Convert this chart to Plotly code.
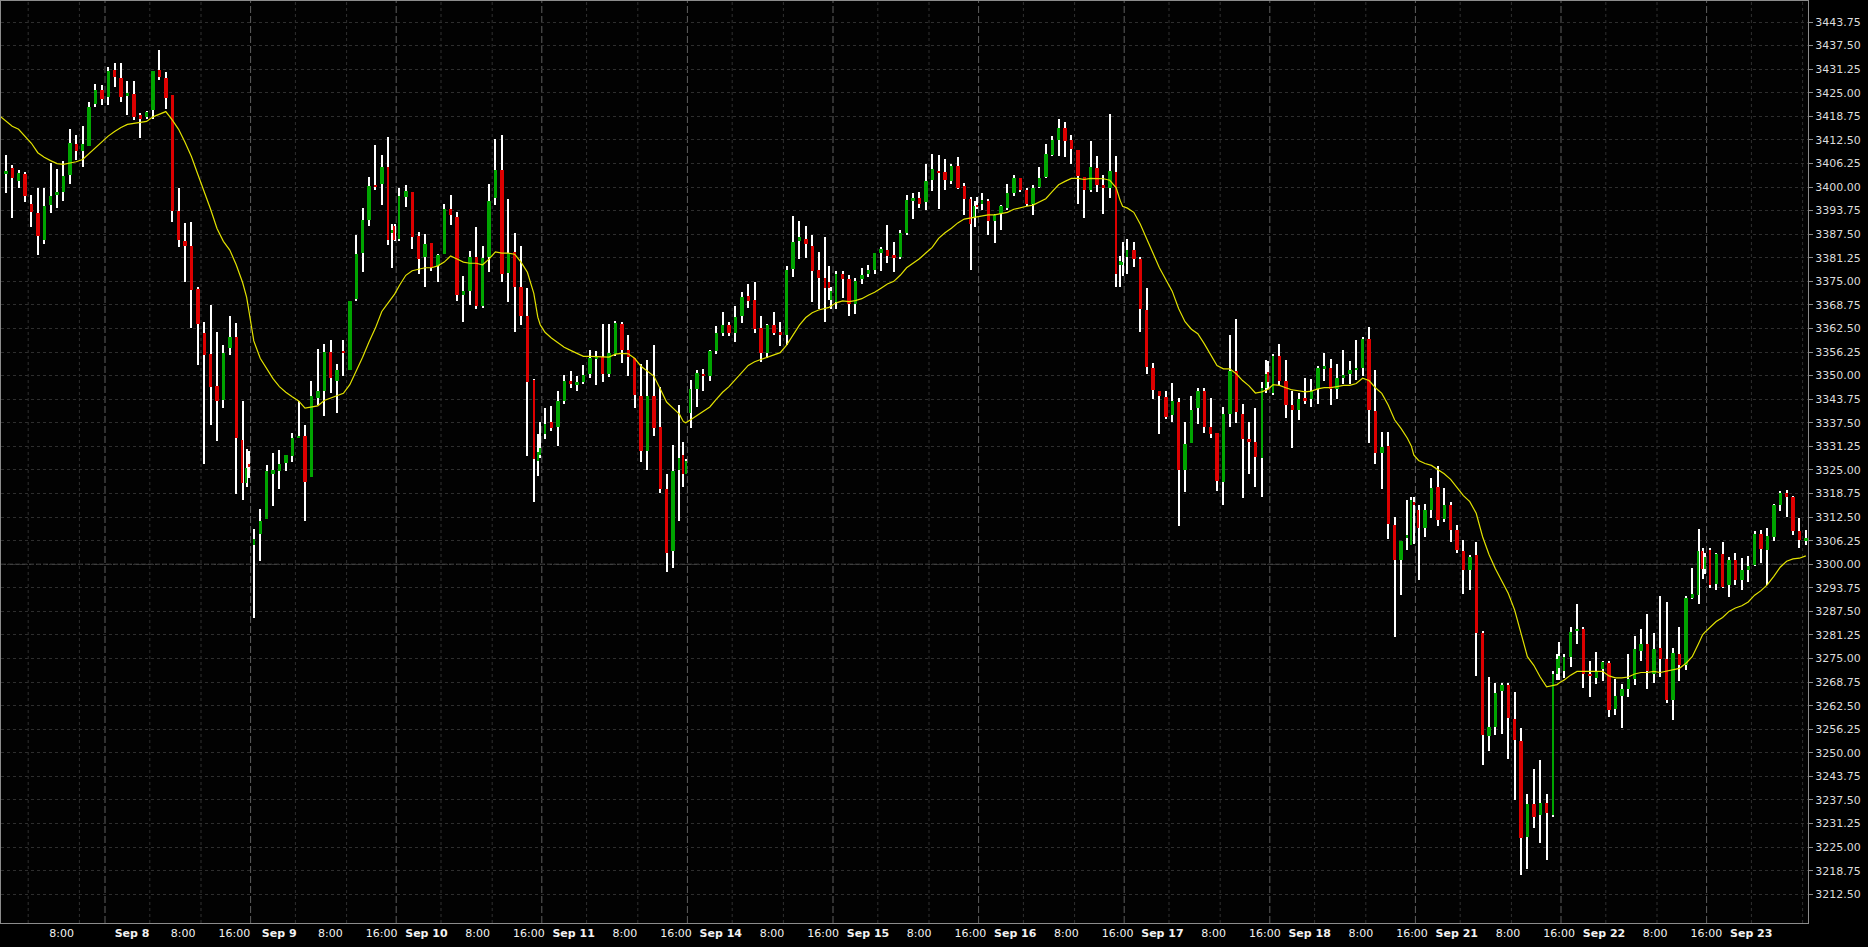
import plotly.graph_objects as go

# ---------------- data ----------------
sessions = ["Sep 7", "Sep 8", "Sep 9", "Sep 10", "Sep 11", "Sep 14", "Sep 15",
            "Sep 16", "Sep 17", "Sep 18", "Sep 21", "Sep 22", "Sep 23"]
first_bar_hour = [3, 1, 1, 1, 1, 1, 1, 1, 1, 1, 1, 1, 1]
last_bar_hour = [19, 22, 22, 22, 22, 22, 22, 22, 22, 22, 22, 22, 16]
has_short_bars = [False] + [True] * 11 + [False]
session_hours = [19] + [22.75] * 12

opens = [
    3395.2, 3403.4, 3405.1, 3401.7, 3403.4, 3395.5, 3393.2, 3385.9, 3395.2, 3397.8, 3398.6, 3403.1, 3411.3, 3409.6, 3410.8, 3422.0, 3425.7,
    3424.0, 3431.1, 3429.0, 3424.3, 3424.6, 3419.1, 3418.6, 3420.5, 3431.1, 3429.0, 3424.5, 3393.6, 3385.7, 3384.3, 3373.0, 3361.4, 3355.7, 3347.3, 3343.6, 3357.2, 3360.3, 3332.9, 3321.6, 3326.7,
    3305.0, 3308.1, 3312.0, 3324.0, 3324.8, 3326.8, 3328.7, 3333.5, 3334.0, 3323.1, 3344.0, 3346.0, 3356.4, 3348.5, 3356.6, 3351.6, 3370.4, 3382.5, 3391.3, 3400.6, 3400.8, 3405.3, 3387.9, 3389.8,
    3386.3, 3397.4, 3398.8, 3387.0, 3381.4, 3385.1, 3379.2, 3382.2, 3394.1, 3392.1, 3371.3, 3372.4, 3381.5, 3368.4, 3381.5, 3397.0, 3404.5, 3377.2, 3382.8, 3373.5, 3365.7, 3348.8, 3327.5, 3329.0,
    3334.4, 3337.7, 3336.3, 3343.4, 3348.7, 3347.6, 3348.4, 3350.4, 3354.6, 3354.9, 3350.4, 3355.7, 3363.7, 3356.8, 3354.6, 3344.5, 3329.9, 3344.5, 3336.4, 3320.0, 3303.4, 3325.1, 3329.0, 3324.0,
    3340.0, 3346.4, 3350.5, 3349.8, 3356.6, 3361.4, 3363.4, 3361.2, 3365.9, 3371.2, 3370.1, 3362.6, 3356.0, 3363.3, 3361.5, 3360.9, 3378.4, 3385.6, 3386.3, 3384.5, 3378.0, 3375.8, 3374.7, 3370.1,
    3369.6, 3377.0, 3375.5, 3369.1, 3375.5, 3377.0, 3378.0, 3382.5, 3383.4, 3381.8, 3381.4, 3387.9, 3396.3, 3397.2, 3396.0, 3401.8, 3404.3, 3403.9, 3401.7, 3405.6, 3400.2, 3396.9, 3391.8, 3395.3,
    3395.6, 3396.3, 3391.0, 3392.9, 3394.4, 3398.4, 3402.5, 3399.2, 3395.5, 3400.0, 3402.6, 3408.5, 3412.5, 3415.6, 3412.4, 3409.9, 3402.6, 3399.2, 3405.1, 3400.5, 3399.8, 3404.0, 3379.4, 3379.4,
    3381.4, 3383.4, 3380.8, 3367.4, 3352.1, 3345.8, 3344.3, 3339.5, 3343.1, 3325.1, 3332.1, 3341.4, 3345.8, 3336.3, 3334.7, 3321.9, 3339.7, 3351.3, 3339.8, 3333.2, 3332.3, 3328.2, 3346.7, 3351.0,
    3345.3, 3355.2, 3348.5, 3342.2, 3340.9, 3344.0, 3343.7, 3346.5, 3352.0, 3352.1, 3346.5, 3349.6, 3350.5, 3351.5, 3352.0, 3359.7, 3340.6, 3329.5, 3331.3, 3310.3, 3301.0, 3307.2, 3305.0, 3316.6,
    3314.3, 3309.6, 3314.3, 3320.5, 3312.0, 3315.8, 3309.0, 3303.4, 3298.6, 3302.5, 3281.7, 3254.4, 3256.8, 3266.4, 3268.1, 3259.1, 3253.1, 3227.8, 3236.5, 3233.4, 3236.8, 3233.4, 3270.9, 3272.4,
    3271.6, 3275.5, 3282.5, 3282.8, 3270.9, 3269.8, 3272.1, 3273.8, 3261.6, 3265.1, 3267.0, 3269.6, 3277.1, 3278.9, 3270.9, 3277.8, 3274.8, 3263.9, 3276.3, 3273.2, 3291.0, 3291.8, 3303.4, 3298.8,
    3303.7, 3294.7, 3302.6, 3294.4, 3301.0, 3295.7, 3298.6, 3299.9, 3308.1, 3303.9, 3307.3, 3315.6, 3318.9, 3317.7, 3308.9, 3306.5,
]
highs = [
    3404.2, 3408.4, 3405.9, 3404.5, 3404.0, 3398.0, 3399.8, 3399.8, 3406.3, 3404.8, 3407.0, 3415.3, 3413.8, 3416.1, 3422.6, 3427.3, 3427.1,
    3431.8, 3432.8, 3432.8, 3428.2, 3428.2, 3419.7, 3420.1, 3430.8, 3436.4, 3430.5, 3424.5, 3399.8, 3390.5, 3390.7, 3373.5, 3364.2, 3368.7, 3361.6, 3358.2, 3365.9, 3363.9, 3343.3, 3330.5, 3329.9,
    3309.3, 3314.7, 3326.4, 3329.5, 3330.2, 3329.0, 3334.7, 3343.4, 3336.8, 3348.7, 3357.1, 3358.3, 3359.5, 3353.0, 3359.5, 3369.9, 3387.3, 3394.4, 3402.6, 3411.2, 3408.5, 3413.3, 3390.2, 3390.2,
    3399.8, 3400.6, 3398.8, 3388.1, 3387.6, 3385.1, 3382.3, 3395.5, 3398.0, 3393.5, 3376.3, 3383.1, 3389.3, 3384.3, 3400.9, 3412.7, 3413.8, 3396.7, 3387.9, 3384.3, 3373.3, 3349.2, 3334.4, 3337.7,
    3341.4, 3342.0, 3345.8, 3350.2, 3351.3, 3349.8, 3352.9, 3356.9, 3356.6, 3363.7, 3363.7, 3364.5, 3364.3, 3360.8, 3354.6, 3353.2, 3354.1, 3358.1, 3347.0, 3323.9, 3331.6, 3342.2, 3332.4, 3327.8,
    3348.8, 3351.5, 3351.8, 3356.9, 3363.1, 3367.0, 3364.3, 3368.5, 3372.1, 3374.3, 3374.9, 3365.9, 3363.6, 3367.0, 3364.3, 3379.2, 3392.2, 3391.0, 3389.8, 3387.3, 3382.9, 3386.8, 3379.1, 3373.6,
    3377.8, 3377.8, 3376.6, 3376.0, 3378.6, 3379.4, 3382.5, 3384.0, 3389.9, 3385.3, 3388.5, 3398.0, 3398.4, 3398.8, 3406.0, 3408.7, 3408.5, 3407.4, 3406.0, 3407.9, 3401.1, 3397.3, 3396.4, 3397.3,
    3398.4, 3396.7, 3392.9, 3395.2, 3400.8, 3403.1, 3402.5, 3399.7, 3400.6, 3405.3, 3411.5, 3413.6, 3418.1, 3417.2, 3413.8, 3409.9, 3402.6, 3412.2, 3408.2, 3403.2, 3419.4, 3408.2, 3381.7, 3385.3,
    3386.2, 3385.4, 3381.5, 3373.3, 3353.3, 3345.8, 3345.9, 3348.1, 3344.2, 3337.7, 3344.5, 3346.8, 3346.8, 3344.2, 3334.7, 3341.6, 3360.8, 3365.1, 3342.5, 3337.7, 3341.4, 3348.4, 3354.1, 3353.8,
    3355.7, 3358.3, 3354.1, 3345.8, 3345.3, 3349.5, 3349.0, 3352.6, 3356.0, 3354.3, 3353.2, 3356.9, 3353.8, 3359.5, 3360.2, 3362.8, 3351.5, 3335.0, 3335.0, 3312.6, 3306.2, 3316.9, 3317.7, 3317.8,
    3315.8, 3316.1, 3322.8, 3326.1, 3320.3, 3316.6, 3310.3, 3306.5, 3302.5, 3305.8, 3282.3, 3270.1, 3268.5, 3268.4, 3268.4, 3266.2, 3256.5, 3239.0, 3245.8, 3248.2, 3239.0, 3271.6, 3276.3, 3279.4,
    3276.3, 3283.3, 3289.5, 3283.3, 3274.4, 3276.8, 3274.4, 3274.4, 3269.6, 3268.2, 3276.3, 3281.0, 3282.8, 3286.7, 3281.7, 3291.5, 3290.0, 3277.8, 3283.3, 3291.5, 3299.1, 3309.3, 3304.2, 3303.0,
    3304.2, 3303.0, 3305.8, 3301.9, 3303.0, 3301.6, 3302.2, 3308.9, 3309.2, 3309.6, 3316.1, 3319.4, 3319.7, 3318.2, 3312.3, 3309.2,
]
lows = [
    3394.8, 3398.3, 3391.8, 3399.8, 3396.0, 3389.3, 3381.9, 3384.8, 3393.0, 3394.4, 3396.3, 3400.8, 3407.1, 3405.3, 3410.8, 3421.2, 3421.7,
    3421.7, 3426.5, 3422.5, 3419.1, 3417.8, 3412.9, 3418.0, 3418.1, 3428.4, 3420.6, 3390.7, 3384.2, 3374.7, 3362.5, 3352.7, 3326.5, 3336.9, 3332.7, 3341.4, 3355.4, 3318.5, 3316.9, 3320.5, 3322.8,
    3285.8, 3300.8, 3312.0, 3315.4, 3320.0, 3324.7, 3327.0, 3333.5, 3311.5, 3323.1, 3342.2, 3339.2, 3345.3, 3340.0, 3349.8, 3351.6, 3369.8, 3377.4, 3389.8, 3399.1, 3395.3, 3384.6, 3378.6, 3385.6,
    3385.6, 3394.6, 3383.7, 3377.0, 3373.5, 3377.8, 3374.7, 3382.2, 3389.9, 3369.8, 3364.2, 3368.8, 3367.8, 3367.9, 3377.4, 3395.3, 3374.7, 3369.5, 3361.7, 3363.4, 3328.7, 3316.4, 3323.3, 3328.2,
    3333.3, 3335.4, 3331.3, 3342.6, 3346.7, 3346.0, 3347.8, 3349.5, 3347.6, 3348.2, 3349.6, 3355.2, 3353.3, 3349.9, 3341.4, 3327.1, 3325.1, 3334.1, 3318.8, 3298.0, 3299.1, 3311.5, 3320.5, 3324.0,
    3336.0, 3341.7, 3346.0, 3348.7, 3355.7, 3360.6, 3360.5, 3358.9, 3363.9, 3367.9, 3361.4, 3353.5, 3354.7, 3360.8, 3357.8, 3358.1, 3376.1, 3381.0, 3381.1, 3369.6, 3367.8, 3364.2, 3370.1, 3367.8,
    3367.6, 3370.5, 3365.9, 3366.4, 3374.3, 3376.1, 3377.0, 3377.8, 3379.8, 3377.4, 3381.0, 3387.3, 3391.5, 3394.4, 3393.8, 3398.9, 3394.1, 3399.1, 3400.8, 3399.4, 3392.6, 3378.1, 3389.5, 3394.1,
    3394.0, 3387.3, 3385.1, 3388.7, 3394.0, 3397.5, 3398.8, 3394.9, 3392.7, 3399.8, 3402.3, 3408.2, 3408.2, 3407.9, 3406.0, 3395.6, 3391.8, 3398.6, 3398.6, 3392.9, 3397.2, 3373.5, 3373.5, 3376.3,
    3376.9, 3378.9, 3361.7, 3350.4, 3343.7, 3334.4, 3338.5, 3337.8, 3310.1, 3319.1, 3332.1, 3337.2, 3334.7, 3333.5, 3319.4, 3315.8, 3336.3, 3337.5, 3317.5, 3324.0, 3320.6, 3317.8, 3345.3, 3346.5,
    3345.0, 3347.6, 3338.8, 3330.7, 3338.3, 3342.5, 3341.6, 3342.5, 3348.7, 3342.2, 3343.7, 3347.8, 3347.8, 3348.8, 3349.9, 3332.1, 3326.5, 3320.0, 3306.8, 3280.6, 3291.8, 3303.9, 3305.0, 3305.4,
    3295.7, 3307.1, 3312.3, 3310.1, 3311.2, 3305.9, 3303.0, 3292.1, 3293.3, 3270.4, 3246.8, 3250.4, 3254.6, 3255.0, 3248.4, 3237.5, 3217.7, 3219.1, 3230.0, 3226.2, 3221.6, 3232.9, 3269.3, 3269.3,
    3269.8, 3272.7, 3278.9, 3267.2, 3264.7, 3268.2, 3269.0, 3259.6, 3260.0, 3256.5, 3264.7, 3268.1, 3274.3, 3267.0, 3268.5, 3270.1, 3263.1, 3258.8, 3269.0, 3272.0, 3290.7, 3289.5, 3296.0, 3297.5,
    3293.8, 3293.3, 3293.8, 3291.3, 3294.4, 3293.3, 3295.2, 3299.6, 3300.3, 3294.4, 3306.2, 3314.0, 3312.4, 3307.8, 3304.2, 3305.0,
]
closes = [
    3403.4, 3404.2, 3402.3, 3403.6, 3397.5, 3393.3, 3387.0, 3395.0, 3397.7, 3398.8, 3403.0, 3411.6, 3409.6, 3411.5, 3421.2, 3425.7, 3423.3,
    3430.7, 3429.1, 3423.9, 3424.8, 3418.6, 3418.0, 3419.8, 3430.8, 3429.1, 3423.7, 3393.6, 3385.9, 3384.3, 3372.6, 3363.6, 3355.4, 3347.1, 3343.4, 3356.0, 3360.3, 3333.6, 3321.6, 3325.4, 3325.7,
    3306.8, 3311.5, 3324.8, 3325.1, 3326.7, 3329.0, 3333.5, 3334.0, 3321.7, 3344.5, 3346.0, 3356.4, 3349.3, 3351.5, 3356.1, 3369.9, 3382.3, 3391.3, 3400.3, 3400.0, 3405.4, 3386.0, 3388.7, 3385.9,
    3397.7, 3398.9, 3386.7, 3381.0, 3384.8, 3378.6, 3382.0, 3394.3, 3392.6, 3371.5, 3372.4, 3381.5, 3368.4, 3381.1, 3396.4, 3404.5, 3376.9, 3382.5, 3373.5, 3365.9, 3348.4, 3327.8, 3329.8, 3330.7,
    3337.2, 3336.1, 3343.4, 3348.7, 3347.8, 3348.4, 3350.2, 3354.7, 3355.0, 3350.4, 3356.1, 3363.9, 3356.8, 3355.0, 3345.0, 3330.1, 3344.5, 3336.1, 3320.0, 3303.1, 3324.7, 3328.2, 3324.0, 3327.5,
    3346.5, 3350.7, 3349.9, 3356.6, 3361.4, 3363.4, 3361.2, 3365.6, 3370.9, 3369.9, 3362.3, 3356.1, 3363.3, 3361.2, 3360.9, 3378.0, 3385.4, 3386.7, 3384.8, 3377.8, 3375.8, 3373.2, 3373.2, 3372.4,
    3376.9, 3375.5, 3369.1, 3375.2, 3376.6, 3378.1, 3382.5, 3383.6, 3381.7, 3381.5, 3387.7, 3396.6, 3397.0, 3395.6, 3401.5, 3404.8, 3403.9, 3401.8, 3405.6, 3399.8, 3396.9, 3390.2, 3394.9, 3394.9,
    3396.6, 3391.0, 3392.6, 3394.9, 3398.4, 3402.5, 3399.1, 3395.6, 3399.8, 3402.5, 3408.7, 3412.5, 3415.6, 3412.2, 3410.1, 3402.8, 3399.1, 3405.4, 3400.5, 3400.0, 3404.2, 3377.0, 3380.5, 3380.0,
    3383.4, 3381.0, 3367.8, 3352.3, 3346.2, 3344.5, 3339.1, 3343.3, 3325.1, 3332.0, 3340.9, 3345.8, 3336.3, 3334.4, 3322.0, 3339.7, 3351.3, 3340.3, 3333.3, 3332.3, 3328.5, 3346.7, 3350.5, 3348.4,
    3355.2, 3348.5, 3342.2, 3340.9, 3343.7, 3343.4, 3346.0, 3352.0, 3352.4, 3346.5, 3349.3, 3350.1, 3351.6, 3352.1, 3359.7, 3340.9, 3329.5, 3331.2, 3310.7, 3301.0, 3306.2, 3307.6, 3316.9, 3315.8,
    3309.6, 3314.3, 3320.2, 3311.8, 3315.8, 3309.2, 3303.7, 3298.6, 3302.0, 3281.7, 3254.6, 3256.9, 3265.8, 3268.1, 3259.3, 3253.4, 3227.5, 3236.5, 3232.9, 3236.8, 3234.1, 3270.9, 3274.8, 3275.8,
    3275.5, 3282.0, 3282.8, 3270.9, 3270.4, 3271.6, 3274.0, 3261.3, 3265.0, 3267.0, 3269.6, 3277.4, 3278.9, 3271.6, 3277.4, 3274.8, 3263.9, 3276.6, 3273.2, 3291.0, 3292.1, 3303.4, 3298.8, 3301.9,
    3294.4, 3302.6, 3294.1, 3301.1, 3295.7, 3298.5, 3299.6, 3308.1, 3304.0, 3307.5, 3315.8, 3318.9, 3317.8, 3308.9, 3306.5, 3306.8,
]
moving_average = [
    3418.9, 3417.4, 3416.1, 3415.3, 3413.5, 3411.6, 3409.1, 3407.9, 3407.0, 3406.2, 3406.0, 3406.3, 3406.7, 3407.3, 3408.8, 3410.4, 3411.9,
    3413.5, 3414.7, 3415.8, 3416.6, 3416.9, 3417.0, 3417.4, 3418.6, 3419.4, 3420.0, 3417.8, 3415.3, 3411.9, 3408.1, 3403.4, 3398.8, 3394.1, 3389.0, 3385.6, 3383.3, 3379.4, 3374.7, 3370.8, 3367.0,
    3359.2, 3354.6, 3351.8, 3349.2, 3347.1, 3345.6, 3344.4, 3343.3, 3341.4, 3341.7, 3342.0, 3343.4, 3344.0, 3344.5, 3345.3, 3347.6, 3351.2, 3354.9, 3358.9, 3362.6, 3367.0, 3369.3, 3370.8, 3371.6,
    3373.9, 3376.6, 3377.8, 3378.3, 3378.6, 3378.6, 3379.1, 3380.1, 3381.7, 3380.9, 3380.1, 3379.8, 3379.8, 3379.4, 3380.9, 3382.8, 3382.5, 3382.5, 3382.2, 3380.1, 3377.4, 3371.8, 3365.5, 3363.5,
    3361.5, 3360.0, 3358.7, 3357.5, 3356.7, 3355.8, 3355.1, 3355.1, 3355.0, 3355.0, 3354.9, 3355.7, 3355.9, 3355.8, 3354.6, 3352.5, 3351.3, 3349.9, 3346.5, 3343.0, 3341.4, 3339.8, 3337.8, 3337.5,
    3338.3, 3339.4, 3340.5, 3341.7, 3343.7, 3345.6, 3347.1, 3349.0, 3350.7, 3352.7, 3353.7, 3354.3, 3355.0, 3355.7, 3356.1, 3358.1, 3360.8, 3363.4, 3365.4, 3366.7, 3367.4, 3367.8, 3368.1, 3368.5,
    3369.3, 3369.8, 3369.6, 3369.9, 3370.4, 3371.3, 3372.1, 3373.2, 3374.3, 3375.0, 3376.6, 3378.6, 3379.7, 3381.0, 3382.5, 3384.0, 3386.4, 3387.9, 3389.1, 3390.5, 3391.5, 3391.8, 3392.1, 3392.2,
    3392.4, 3392.6, 3392.6, 3392.9, 3393.3, 3394.1, 3394.6, 3394.9, 3395.2, 3396.1, 3396.9, 3398.8, 3400.6, 3401.5, 3402.3, 3402.3, 3402.0, 3402.3, 3402.2, 3402.2, 3401.8, 3399.8, 3396.4, 3394.9,
    3394.4, 3393.3, 3390.2, 3386.4, 3382.8, 3378.6, 3375.5, 3372.4, 3367.8, 3364.3, 3362.3, 3361.1, 3358.5, 3355.7, 3352.7, 3351.8, 3351.8, 3350.5, 3348.7, 3347.3, 3345.4, 3345.7, 3346.2, 3346.4,
    3347.6, 3347.4, 3346.8, 3346.2, 3346.0, 3345.7, 3345.9, 3346.5, 3346.8, 3346.8, 3347.1, 3347.4, 3347.4, 3347.9, 3349.3, 3348.7, 3346.8, 3345.3, 3342.2, 3338.3, 3336.0, 3333.4, 3331.3, 3329.0,
    3327.5, 3326.7, 3326.2, 3325.1, 3324.0, 3322.5, 3320.5, 3318.2, 3316.6, 3313.5, 3307.3, 3302.6, 3298.8, 3295.7, 3292.3, 3287.9, 3281.7, 3275.5, 3273.2, 3270.1, 3267.5, 3267.8, 3268.1, 3268.6,
    3269.3, 3270.6, 3271.6, 3271.6, 3271.6, 3271.6, 3271.6, 3270.4, 3269.9, 3269.9, 3270.1, 3270.9, 3271.3, 3271.3, 3271.6, 3271.3, 3271.6, 3272.0, 3272.4, 3273.7, 3275.5, 3279.0, 3281.3, 3282.0,
    3283.3, 3284.8, 3285.9, 3287.5, 3288.4, 3289.0, 3290.0, 3291.8, 3293.0, 3294.6, 3296.8, 3299.2, 3300.8, 3301.4, 3301.6, 3302.2,
]
time_labels = ["8:00", "16:00"]
y_tick_values = [3212.5 + 6.25 * k for k in range(38)]
highlight_level = 3300.0

# ---------------- time axis (trading hours, gaps removed) ----------------
session_start = []
acc = 0.0
for h in session_hours:
    session_start.append(acc)
    acc += h

xc = []
for i in range(len(sessions)):
    for hr in range(first_bar_hour[i], last_bar_hour[i] + 1):
        xc.append(session_start[i] + (hr - 1) + 0.5)
    if has_short_bars[i]:
        xc.append(session_start[i] + 22.0 + 0.125)
        xc.append(session_start[i] + 22.25 + 0.25)

n = len(xc)
for arr in (opens, highs, lows, closes, moving_average):
    if len(arr) != n:
        raise ValueError("length mismatch %d vs %d" % (len(arr), n))

PX_PER_H = 6.4
x_lo = session_start[1] - 104 / PX_PER_H
x_hi = x_lo + 1807 / PX_PER_H

# ---------------- candles as bars ----------------
GREEN, RED = "#00a400", "#dc0000"
body_base, body_h, body_w, body_c = [], [], [], []
wick_base, wick_h = [], []
for k in range(n):
    o, h, l, c = opens[k], highs[k], lows[k], closes[k]
    lo_b, hi_b = min(o, c), max(o, c)
    hgt = hi_b - lo_b
    if hgt < 0.5:
        mid = (lo_b + hi_b) / 2
        lo_b, hgt = mid - 0.25, 0.5
    body_base.append(lo_b)
    body_h.append(hgt)
    body_c.append(GREEN if c >= o else RED)
    gp = xc[k] - xc[k - 1] if k > 0 else 1.0
    gn = xc[k + 1] - xc[k] if k < n - 1 else 1.0
    body_w.append(0.53 if min(gp, gn) > 0.9 else 0.19)
    wl = min(l, o, c)
    wh = max(h, o, c)
    wick_base.append(wl)
    wick_h.append(wh - wl)

fig = go.Figure()
fig.add_trace(go.Bar(x=xc, y=wick_h, base=wick_base, width=0.16,
                     marker=dict(color="#ffffff", line=dict(width=0)), hoverinfo="skip"))
fig.add_trace(go.Bar(x=xc, y=body_h, base=body_base, width=body_w,
                     marker=dict(color=body_c, line=dict(width=0)), hoverinfo="skip"))
fig.add_trace(go.Scatter(x=xc, y=moving_average, mode="lines",
                         line=dict(color="#e2e200", width=1.2), hoverinfo="skip"))

# ---------------- grid lines & labels ----------------
shapes = []
tickvals, ticktext = [], []
for i in range(len(sessions)):
    s = session_start[i]
    if i > 0:
        shapes.append(dict(type="line", xref="x", yref="paper", x0=s, x1=s, y0=0, y1=1,
                           line=dict(color="#5e5e5e", width=1, dash="7px,3px"), layer="below"))
    for off in (7, 15):
        if off < session_hours[i] and x_lo < s + off < x_hi:
            shapes.append(dict(type="line", xref="x", yref="paper", x0=s + off, x1=s + off, y0=0, y1=1,
                               line=dict(color="#303030", width=1, dash="3px,3px"), layer="below"))
    origin = s + 4.22 + 0.25 * max(i - 1, 0)
    if i == 0:
        tickvals.append(origin + 8); ticktext.append(time_labels[0])
    elif i == len(sessions) - 1:
        tickvals.append(origin); ticktext.append("<b>%s</b>" % sessions[i])
    else:
        tickvals += [origin, origin + 8, origin + 16]
        ticktext += ["<b>%s</b>" % sessions[i], time_labels[0], time_labels[1]]

shapes.append(dict(type="line", xref="paper", yref="y", x0=0, x1=1, y0=highlight_level, y1=highlight_level,
                   line=dict(color="#555555", width=1, dash="5px,2px"), layer="below"))

fig.update_layout(
    width=1868, height=947,
    margin=dict(l=1, r=60, t=1, b=24),
    paper_bgcolor="#000000", plot_bgcolor="#020202",
    barmode="overlay", bargap=0, showlegend=False, hovermode=False,
    shapes=shapes,
    font=dict(family="DejaVu Sans", color="#e0e0e0"),
)
fig.update_xaxes(range=[x_lo, x_hi], showgrid=False, zeroline=False,
                 tickmode="array", tickvals=tickvals, ticktext=ticktext,
                 ticks="", tickangle=0,
                 tickfont=dict(family="DejaVu Sans", size=11, color="#f2f2f2"),
                 showline=True, linecolor="#8c8c8c", linewidth=1, mirror=True)
fig.update_yaxes(side="right", range=[3204.89, 3449.32], zeroline=False,
                 tickmode="array", tickvals=y_tick_values,
                 ticktext=["%.2f" % v for v in y_tick_values],
                 ticks="outside", ticklen=4, tickcolor="#8c8c8c",
                 tickfont=dict(family="DejaVu Sans", size=11, color="#dcdcdc"),
                 showgrid=True, gridcolor="#2e2e2e", gridwidth=1, griddash="3px,3px",
                 showline=True, linecolor="#8c8c8c", linewidth=1, mirror=True)

fig.write_html("out.html", config={"displayModeBar": False},
               post_script="document.body.style.margin='0';document.body.style.background='#000';")
